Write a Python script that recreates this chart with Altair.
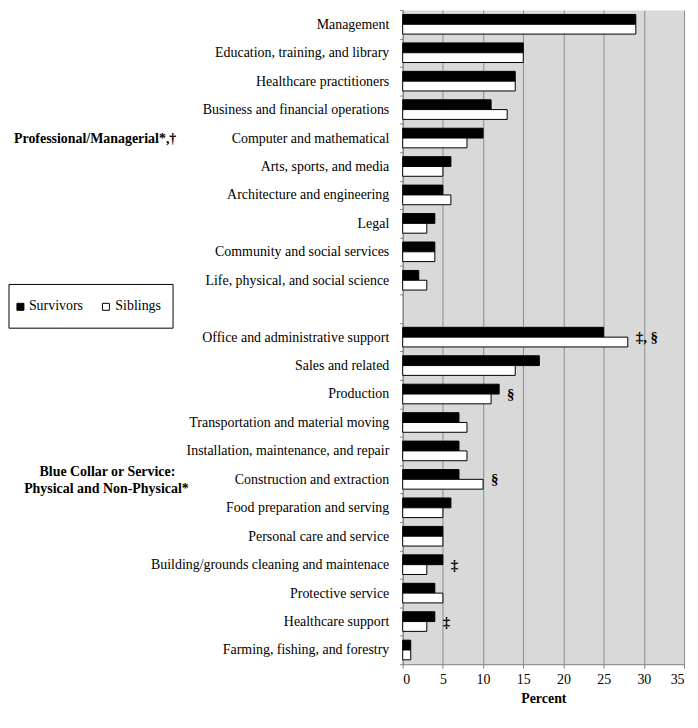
import altair as alt
import pandas as pd

categories = [
    "Management", "Education, training, and library", "Healthcare practitioners",
    "Business and financial operations", "Computer and mathematical",
    "Arts, sports, and media", "Architecture and engineering", "Legal",
    "Community and social services", "Life, physical, and social science",
    "Office and administrative support", "Sales and related", "Production",
    "Transportation and material moving", "Installation, maintenance, and repair",
    "Construction and extraction", "Food preparation and serving",
    "Personal care and service", "Building/grounds cleaning and maintenace",
    "Protective service", "Healthcare support", "Farming, fishing, and forestry",
]
survivors = [29, 15, 14, 11, 10, 6, 5, 4, 4, 2, 25, 17, 12, 7, 7, 7, 6, 5, 5, 4, 4, 1]
siblings = [29, 15, 14, 13, 8, 5, 6, 3, 4, 3, 28, 14, 11, 8, 8, 10, 5, 5, 3, 5, 3, 1]
series = ["Survivors", "Siblings"]

annot_cats = ["Office and administrative support", "Production",
              "Construction and extraction", "Building/grounds cleaning and maintenace",
              "Healthcare support"]
annot_texts = ["‡, §", "§", "§", "‡", "‡"]

x_ticks = [0, 5, 10, 15, 20, 25, 30, 35]

GAP = "\u00a0"
domain = categories[:10] + [GAP] + categories[10:]

rows = []
for c, s, b in zip(categories, survivors, siblings):
    rows.append({"cat": c, "series": "Survivors", "value": s})
    rows.append({"cat": c, "series": "Siblings", "value": b})
df = pd.DataFrame(rows)

amax = {c: max(s, b) for c, s, b in zip(categories, survivors, siblings)}
adf = pd.DataFrame({"cat": annot_cats, "label": annot_texts,
                    "xpos": [amax[c] for c in annot_cats]})

FONT = "Liberation Serif"
W, H = 283, 658

yenc = alt.Y("cat:N", sort=domain,
             scale=alt.Scale(domain=domain, paddingInner=0, paddingOuter=0),
             axis=alt.Axis(title=None, labelFont=FONT, labelFontSize=14, labelColor="#000",
                           labelPadding=11, tickBand="extent", tickSize=3,
                           tickColor="#808080", domainColor="#808080", labelLimit=400))

bars = alt.Chart(df).mark_bar(stroke="black", strokeWidth=1).encode(
    y=yenc,
    yOffset=alt.YOffset("series:N", sort=series,
                        scale=alt.Scale(domain=series, paddingInner=0, paddingOuter=0.45)),
    x=alt.X("value:Q", scale=alt.Scale(domain=[0, 35], nice=False),
            axis=alt.Axis(title="Percent", values=x_ticks, labelFont=FONT, labelFontSize=14,
                          labelColor="#000", titleFont=FONT, titleFontSize=14,
                          titleFontWeight="bold", titleColor="#000", titlePadding=6,
                          grid=True, gridColor="#8c8c8c", tickColor="#808080",
                          domainColor="#808080", tickSize=4, labelPadding=4)),
    color=alt.Color("series:N", scale=alt.Scale(domain=series, range=["#000000", "#ffffff"]),
                    legend=None),
)

annots = alt.Chart(adf).mark_text(font=FONT, fontSize=15, fontWeight="bold", align="left",
                                  baseline="middle", dx=8, color="#000").encode(
    y=alt.Y("cat:N", sort=domain, scale=alt.Scale(domain=domain)),
    x=alt.X("xpos:Q"),
    text="label:N",
)

one = pd.DataFrame({"a": [0]})


def txt(s, x, y, align="left", bold=False, size=14):
    return alt.Chart(one).mark_text(font=FONT, fontSize=size,
                                    fontWeight="bold" if bold else "normal",
                                    align=align, baseline="middle", color="#000").encode(
        x=alt.value(x), y=alt.value(y), text=alt.value(s))


def box(x1, x2, y1, y2, fill, stroke="black"):
    return alt.Chart(one).mark_rect(fill=fill, stroke=stroke, strokeWidth=1).encode(
        x=alt.value(x1), x2=alt.value(x2), y=alt.value(y1), y2=alt.value(y2))


group1 = txt("Professional/Managerial*,†", -391, 130, bold=True)
group2a = txt("Blue Collar or Service:", -297, 465, align="center", bold=True)
group2b = txt("Physical and Non-Physical*", -298, 482, align="center", bold=True)

legend_box = box(-396, -231, 276, 320, "white")
sq1 = box(-388, -381, 295, 302, "black")
sq2 = box(-302, -295, 295, 302, "white")
lt1 = txt("Survivors", -376, 298)
lt2 = txt("Siblings", -289, 298)

chart = alt.layer(bars, annots, group1, group2a, group2b,
                  legend_box, sq1, sq2, lt1, lt2).properties(
    width=W, height=H,
    autosize=alt.AutoSizeParams(type="none"),
    padding={"left": 397, "right": 6, "top": 0, "bottom": 46},
).configure_view(fill="#d9d9d9", strokeOpacity=0)

chart.save("out.html", embed_options={"renderer": "svg", "actions": False})
